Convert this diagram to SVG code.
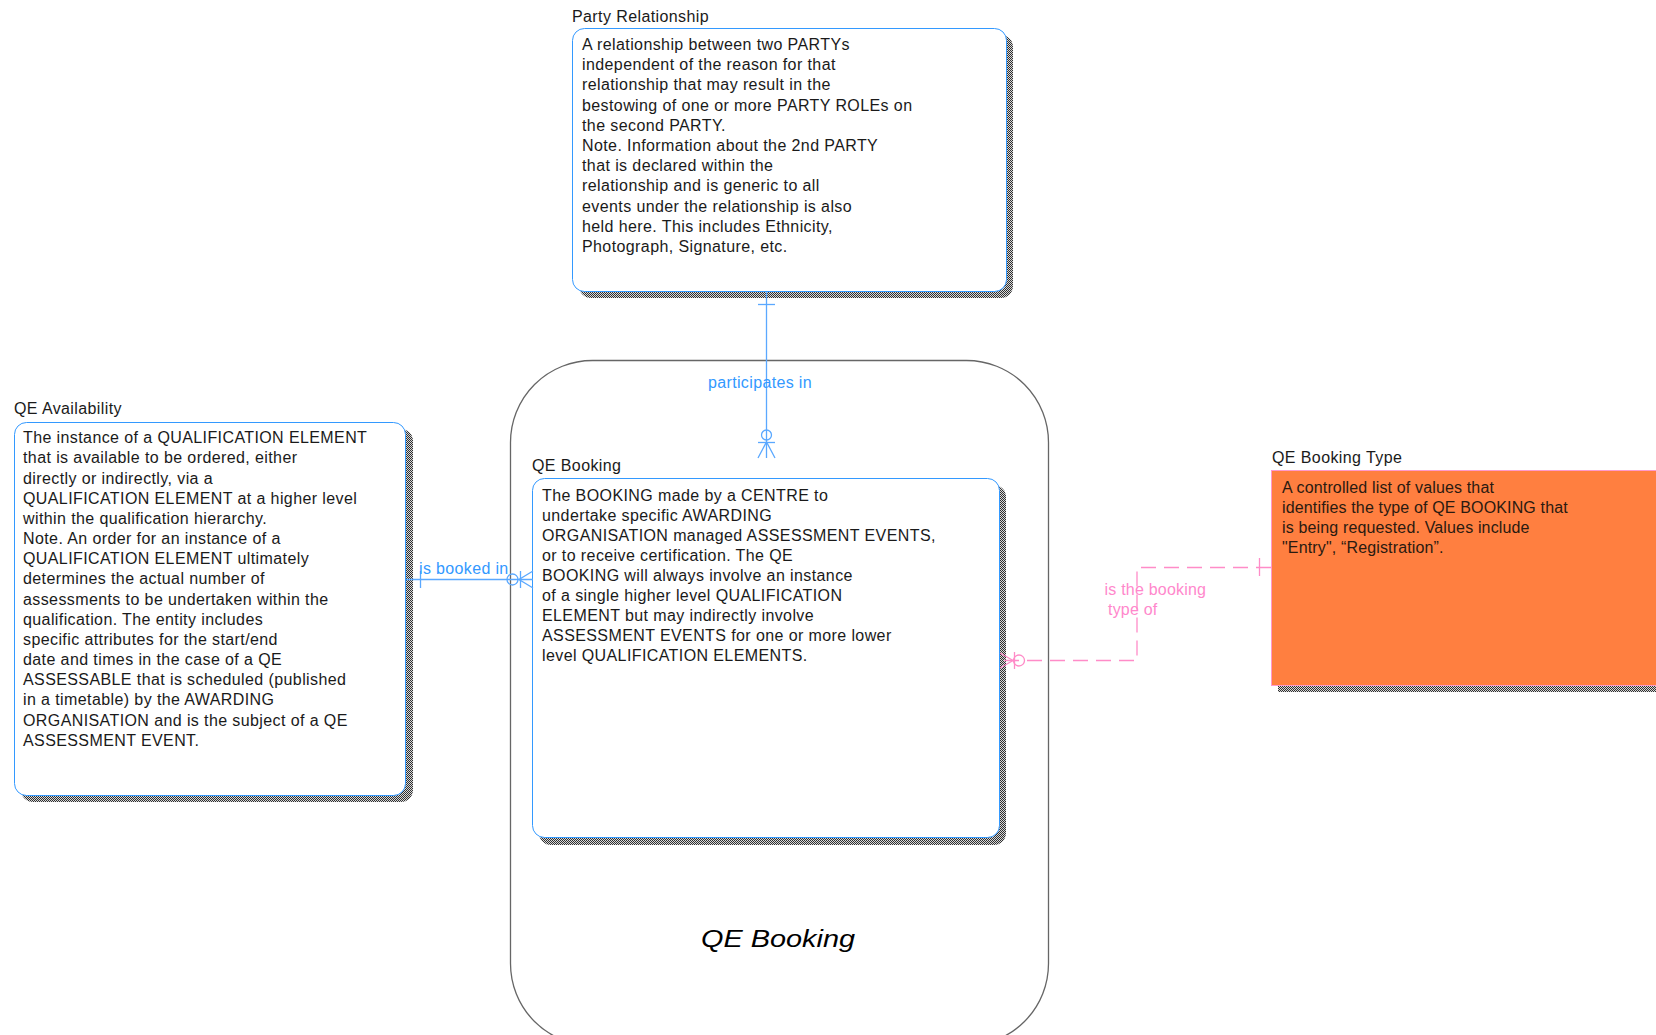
<svg xmlns="http://www.w3.org/2000/svg" width="1656" height="1035" viewBox="0 0 1656 1035">
<defs>
<pattern id="shade" width="2" height="2" patternUnits="userSpaceOnUse">
<rect width="2" height="2" fill="#d8d8d8"/>
<rect x="0" y="0" width="1" height="1" fill="#303030"/>
<rect x="1" y="1" width="1" height="1" fill="#303030"/>
</pattern>
<style>
.lbl{font-family:"Liberation Sans",Arial,sans-serif;font-size:16px;fill:#1a1a1a;letter-spacing:0.4px}
.body{font-family:"Liberation Sans",Arial,sans-serif;font-size:16px;fill:#1a1a1a;letter-spacing:0.4px}
.obody{font-family:"Liberation Sans",Arial,sans-serif;font-size:16px;fill:#2a1a10;letter-spacing:0.15px}
.ent{fill:#ffffff;stroke:#3399ff;stroke-width:1}
.shadow{fill:url(#shade)}
.blue{stroke:#5aa8ff;stroke-width:1.3;fill:none}
.pink{stroke:#ff8cc8;stroke-width:1.3;fill:none}
.bl{font-family:"Liberation Sans",Arial,sans-serif;font-size:16px;fill:#3399ff;letter-spacing:0.35px}
.pl{font-family:"Liberation Sans",Arial,sans-serif;font-size:16px;fill:#ff88cc;letter-spacing:0.2px}
</style>
</defs>
<rect width="1656" height="1035" fill="#ffffff"/>

<g id="subject-area-qe-booking">
<rect x="510.5" y="360.5" width="538" height="685" rx="82" ry="82" fill="none" stroke="#666666" stroke-width="1.3"/>
<text x="701" y="947" font-family="Liberation Sans, Arial, sans-serif" font-size="24" font-style="italic" fill="#000000" textLength="154" lengthAdjust="spacingAndGlyphs">QE Booking</text>
</g>

<g id="party-relationship">
<rect class="shadow" x="579" y="35" width="434" height="263" rx="12"/>
<rect class="ent" x="572.5" y="28.5" width="434" height="263" rx="12"/>
<text class="lbl" x="572" y="21.5">Party Relationship</text>
<text class="body" x="582" y="50">
<tspan x="582" dy="0">A relationship between two PARTYs</tspan>
<tspan x="582" dy="20.2">independent of the reason for that</tspan>
<tspan x="582" dy="20.2">relationship that may result in the</tspan>
<tspan x="582" dy="20.2">bestowing of one or more PARTY ROLEs on</tspan>
<tspan x="582" dy="20.2">the second PARTY.</tspan>
<tspan x="582" dy="20.2">Note. Information about the 2nd PARTY</tspan>
<tspan x="582" dy="20.2">that is declared within the</tspan>
<tspan x="582" dy="20.2">relationship and is generic to all</tspan>
<tspan x="582" dy="20.2">events under the relationship is also</tspan>
<tspan x="582" dy="20.2">held here. This includes Ethnicity,</tspan>
<tspan x="582" dy="20.2">Photograph, Signature, etc.</tspan>
</text>
</g>

<g id="qe-availability">
<rect class="shadow" x="21" y="429" width="392" height="373" rx="12"/>
<rect class="ent" x="14.5" y="422.5" width="391" height="373" rx="12"/>
<text class="lbl" x="14" y="414">QE Availability</text>
<text class="body" x="23" y="443.3">
<tspan x="23" dy="0">The instance of a QUALIFICATION ELEMENT</tspan>
<tspan x="23" dy="20.16">that is available to be ordered, either</tspan>
<tspan x="23" dy="20.16">directly or indirectly, via a</tspan>
<tspan x="23" dy="20.16">QUALIFICATION ELEMENT at a higher level</tspan>
<tspan x="23" dy="20.16">within the qualification hierarchy.</tspan>
<tspan x="23" dy="20.16">Note. An order for an instance of a</tspan>
<tspan x="23" dy="20.16">QUALIFICATION ELEMENT ultimately</tspan>
<tspan x="23" dy="20.16">determines the actual number of</tspan>
<tspan x="23" dy="20.16">assessments to be undertaken within the</tspan>
<tspan x="23" dy="20.16">qualification. The entity includes</tspan>
<tspan x="23" dy="20.16">specific attributes for the start/end</tspan>
<tspan x="23" dy="20.16">date and times in the case of a QE</tspan>
<tspan x="23" dy="20.16">ASSESSABLE that is scheduled (published</tspan>
<tspan x="23" dy="20.16">in a timetable) by the AWARDING</tspan>
<tspan x="23" dy="20.16">ORGANISATION and is the subject of a QE</tspan>
<tspan x="23" dy="20.16">ASSESSMENT EVENT.</tspan>
</text>
</g>

<g id="qe-booking">
<rect class="shadow" x="539" y="485" width="467" height="360" rx="12"/>
<rect class="ent" x="532.5" y="478.5" width="467" height="359" rx="12"/>
<text class="lbl" x="532" y="470.7">QE Booking</text>
<text class="body" x="542" y="500.7">
<tspan x="542" dy="0">The BOOKING made by a CENTRE to</tspan>
<tspan x="542" dy="20.05">undertake specific AWARDING</tspan>
<tspan x="542" dy="20.05">ORGANISATION managed ASSESSMENT EVENTS,</tspan>
<tspan x="542" dy="20.05">or to receive certification. The QE</tspan>
<tspan x="542" dy="20.05">BOOKING will always involve an instance</tspan>
<tspan x="542" dy="20.05">of a single higher level QUALIFICATION</tspan>
<tspan x="542" dy="20.05">ELEMENT but may indirectly involve</tspan>
<tspan x="542" dy="20.05">ASSESSMENT EVENTS for one or more lower</tspan>
<tspan x="542" dy="20.05">level QUALIFICATION ELEMENTS.</tspan>
</text>
</g>

<g id="qe-booking-type">
<rect class="shadow" x="1278" y="477" width="400" height="215"/>
<rect x="1271.5" y="470.5" width="400" height="215" fill="#ff7f40" stroke="#ff99cc" stroke-width="1"/>
<text class="lbl" x="1272" y="463.3">QE Booking Type</text>
<text class="obody" x="1282" y="492.7">
<tspan x="1282" dy="0">A controlled list of values that</tspan>
<tspan x="1282" dy="20.2">identifies the type of QE BOOKING that</tspan>
<tspan x="1282" dy="20.2">is being requested. Values include</tspan>
<tspan x="1282" dy="20.2">"Entry", “Registration”.</tspan>
</text>
</g>

<g id="connectors">
<g id="rel-participates-in">
<line class="blue" x1="766.5" y1="292" x2="766.5" y2="458"/>
<line class="blue" x1="758" y1="304.5" x2="775" y2="304.5"/>
<circle class="blue" cx="766.5" cy="435" r="5" fill="#ffffff"/>
<line class="blue" x1="758" y1="442.5" x2="775" y2="442.5"/>
<polyline class="blue" points="758,458 766.5,442 775,458"/>
<text class="bl" x="708" y="388">participates in</text>
</g>
<g id="rel-is-booked-in">
<line class="blue" x1="406" y1="579.5" x2="533" y2="579.5"/>
<line class="blue" x1="420.5" y1="571" x2="420.5" y2="588"/>
<circle class="blue" cx="512.5" cy="579.5" r="5.5"/>
<line class="blue" x1="520.5" y1="571" x2="520.5" y2="588"/>
<polyline class="blue" points="533,571 519,579.5 533,588"/>
<text class="bl" x="419" y="574">is booked in</text>
</g>
<g id="rel-is-the-booking-type-of">
<path class="pink" stroke-dasharray="15 8" d="M1271 567.5 H1137 V660.5 H1001"/>
<line class="pink" x1="1259.5" y1="558" x2="1259.5" y2="576"/>
<circle class="pink" cx="1019" cy="660.5" r="5.5"/>
<line class="pink" x1="1014.5" y1="652" x2="1014.5" y2="669"/>
<polyline class="pink" points="1000,653 1013,660.5 1000,668"/>
<text class="pl" x="1104.6" y="595">is the booking</text>
<text class="pl" x="1108" y="615">type of</text>
</g>
</g>
</svg>
